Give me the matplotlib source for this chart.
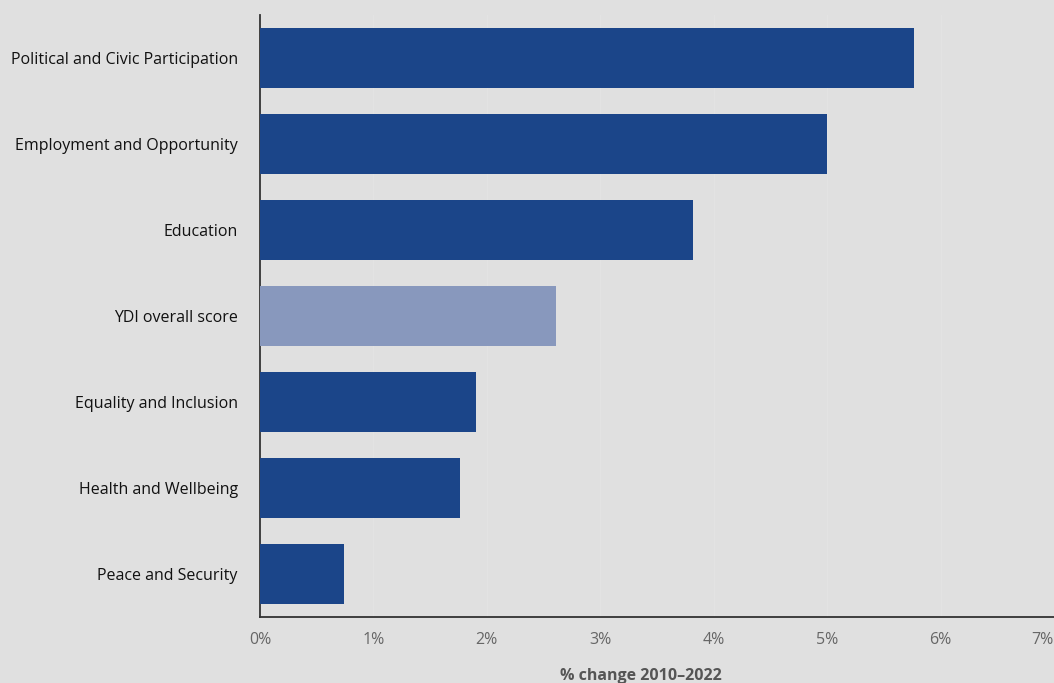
import matplotlib.pyplot as plt
import numpy as np

# Daten (von oben nach unten)
categories = ['Political and Civic Participation', 'Employment and Opportunity', 'Education',
              'YDI overall score', 'Equality and Inclusion', 'Health and Wellbeing', 'Peace and Security']
values = [5.77, 5.0, 3.82, 2.61, 1.90, 1.76, 0.74]
highlight = 'YDI overall score'
xticks = [0, 1, 2, 3, 4, 5, 6, 7]

BG = '#e0e0e0'
DARK = '#1b4589'
LIGHT = '#8898bd'

plt.rcParams['font.family'] = ['Open Sans', 'DejaVu Sans']

fig = plt.figure(figsize=(10.54, 6.83), dpi=100, facecolor=BG)
ax = fig.add_axes([0.2467, 0.0966, 0.7533, 0.8814], facecolor=BG)

y = np.arange(len(categories))[::-1]
colors = [LIGHT if c == highlight else DARK for c in categories]
ax.barh(y, values, height=0.7, color=colors, zorder=3)

ax.set_xlim(0, 7)
ax.set_ylim(-0.5, len(categories) - 0.5)
ax.set_yticks(y)
ax.set_yticklabels(categories, fontsize=11.5, color='#111111')
ax.set_xticks(xticks)
ax.set_xticklabels([f'{t}%' for t in xticks], fontsize=11.5, color='#666666')
ax.tick_params(axis='y', length=0, pad=16)
ax.tick_params(axis='x', length=0, pad=11)
# letztes Label nach innen schieben
ax.get_xticklabels()[-1].set_horizontalalignment('right')

ax.grid(axis='x', color='#e3e3e3', linewidth=1, zorder=0)
for s in ['top', 'right']:
    ax.spines[s].set_visible(False)
for s in ['left', 'bottom']:
    ax.spines[s].set_color('#333333')
    ax.spines[s].set_linewidth(1.3)

ax.set_xlabel('% change 2010–2022', fontsize=11.5, fontweight='bold', color='#555555')
ax.xaxis.set_label_coords(0.48, -0.085)

fig.savefig('out.png', dpi=100, facecolor=BG)
